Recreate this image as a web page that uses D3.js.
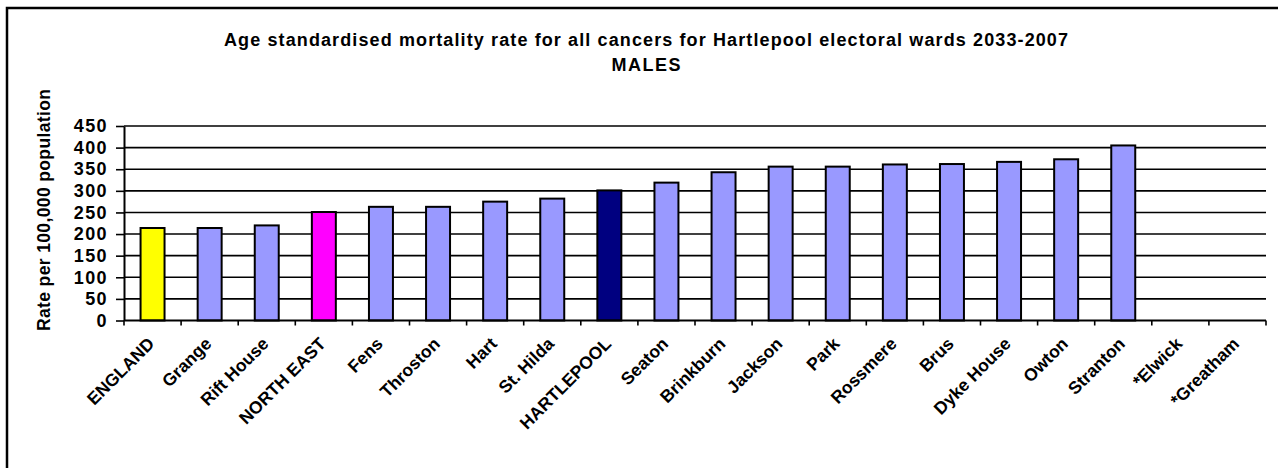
<!DOCTYPE html>
<html>
<head>
<meta charset="utf-8">
<script src="https://cdn.jsdelivr.net/npm/d3@7"></script>
<style>
  html, body { margin: 0; padding: 0; background: #fff; }
  svg { display: block; font-family: Arial, "Liberation Sans", sans-serif; }
</style>
</head>
<body>
<svg id="chart" width="1278" height="468"></svg>
<script>
// Ward and reference-area names, in display order
const categories = [
  "ENGLAND", "Grange", "Rift House", "NORTH EAST", "Fens", "Throston", "Hart",
  "St. Hilda", "HARTLEPOOL", "Seaton", "Brinkburn", "Jackson", "Park",
  "Rossmere", "Brus", "Dyke House", "Owton", "Stranton", "*Elwick", "*Greatham"
];

// Age standardised mortality rate per 100,000 (null = not shown)
const rates = [
  214, 214, 220, 251, 263, 263, 275, 282, 301, 319, 343, 356, 356,
  361, 362, 367, 373, 405, null, null
];

// Area type of each category
const areaTypes = [
  "national", "ward", "ward", "region", "ward", "ward", "ward",
  "ward", "district", "ward", "ward", "ward", "ward",
  "ward", "ward", "ward", "ward", "ward", "ward", "ward"
];

const yTicks = [0, 50, 100, 150, 200, 250, 300, 350, 400, 450];

const titleLines = [
  "Age standardised mortality rate for all cancers for Hartlepool electoral wards 2033-2007",
  "MALES"
];
const yTitle = "Rate per 100,000 population";

const svg = d3.select("#chart");

// chart frame
svg.append("rect")
  .attr("x", 7).attr("y", 8)
  .attr("width", 1400).attr("height", 600)
  .attr("fill", "none").attr("stroke", "#000").attr("stroke-width", 2.5);

const plot = { left: 124, right: 1266, top: 126, bottom: 320.5 };

const x = d3.scaleBand()
  .domain(categories)
  .range([plot.left, plot.right])
  .paddingInner(0.58)
  .paddingOuter(0.29);

const y = d3.scaleLinear()
  .domain([0, 450])
  .range([plot.bottom, plot.top]);

const color = d3.scaleOrdinal()
  .domain(["national", "ward", "region", "district"])
  .range(["#FFFF00", "#9999FF", "#FF00FF", "#000080"]);

// horizontal gridlines
svg.append("g")
  .selectAll("line")
  .data(yTicks.filter(d => d > 0))
  .join("line")
  .attr("x1", plot.left).attr("x2", plot.right)
  .attr("y1", d => y(d)).attr("y2", d => y(d))
  .attr("stroke", "#000").attr("stroke-width", 1.6);

// bars
const barData = categories.map((c, i) => ({ c, v: rates[i], t: areaTypes[i] }))
  .filter(d => d.v != null);

svg.append("g")
  .selectAll("rect")
  .data(barData)
  .join("rect")
  .attr("x", d => x(d.c))
  .attr("y", d => y(d.v))
  .attr("width", x.bandwidth())
  .attr("height", d => y(0) - y(d.v))
  .attr("fill", d => color(d.t))
  .attr("stroke", "#000")
  .attr("stroke-width", 2);

// y axis
const yAxis = svg.append("g")
  .attr("transform", `translate(${plot.left},0)`)
  .call(d3.axisLeft(y).tickValues(yTicks).tickSize(8).tickPadding(8).tickSizeOuter(0));
yAxis.select(".domain").attr("stroke", "#000").attr("stroke-width", 2);
yAxis.selectAll(".tick line").attr("stroke", "#000").attr("stroke-width", 1.6);
yAxis.selectAll(".tick text")
  .attr("font-size", 18).attr("font-weight", "bold").attr("fill", "#000")
  .attr("letter-spacing", 1.4)
  .attr("font-family", "Arial, 'Liberation Sans', sans-serif");

// x axis: ticks at band boundaries
const step = x.step();
const boundaries = d3.range(categories.length + 1).map(i => plot.left + i * step);
svg.append("line")
  .attr("x1", plot.left).attr("x2", plot.right)
  .attr("y1", plot.bottom).attr("y2", plot.bottom)
  .attr("stroke", "#000").attr("stroke-width", 2);
svg.append("g")
  .selectAll("line")
  .data(boundaries)
  .join("line")
  .attr("x1", d => d).attr("x2", d => d)
  .attr("y1", plot.bottom).attr("y2", plot.bottom + 5)
  .attr("stroke", "#000").attr("stroke-width", 1.6);

// rotated category labels
svg.append("g")
  .selectAll("text")
  .data(categories)
  .join("text")
  .attr("transform", d => `translate(${x(d) + x.bandwidth() / 2 - 6},336) rotate(-45)`)
  .attr("text-anchor", "end")
  .attr("dy", "0.72em")
  .attr("font-size", 17.5)
  .attr("font-weight", "bold")
  .attr("fill", "#000")
  .text(d => d);

// title
const titleWidths = [844, 69];
svg.append("g")
  .selectAll("text")
  .data(titleLines)
  .join("text")
  .attr("x", 646)
  .attr("y", (d, i) => 46 + i * 25)
  .attr("text-anchor", "middle")
  .attr("font-size", 18)
  .attr("font-weight", "bold")
  .attr("fill", "#000")
  .attr("textLength", (d, i) => titleWidths[i])
  .attr("lengthAdjust", "spacing")
  .text(d => d);

// y axis title
svg.append("text")
  .attr("transform", "translate(50,210) rotate(-90)")
  .attr("text-anchor", "middle")
  .attr("font-size", 17.5)
  .attr("font-weight", "bold")
  .attr("fill", "#000")
  .attr("textLength", 242)
  .attr("lengthAdjust", "spacing")
  .text(yTitle);
</script>
</body>
</html>
